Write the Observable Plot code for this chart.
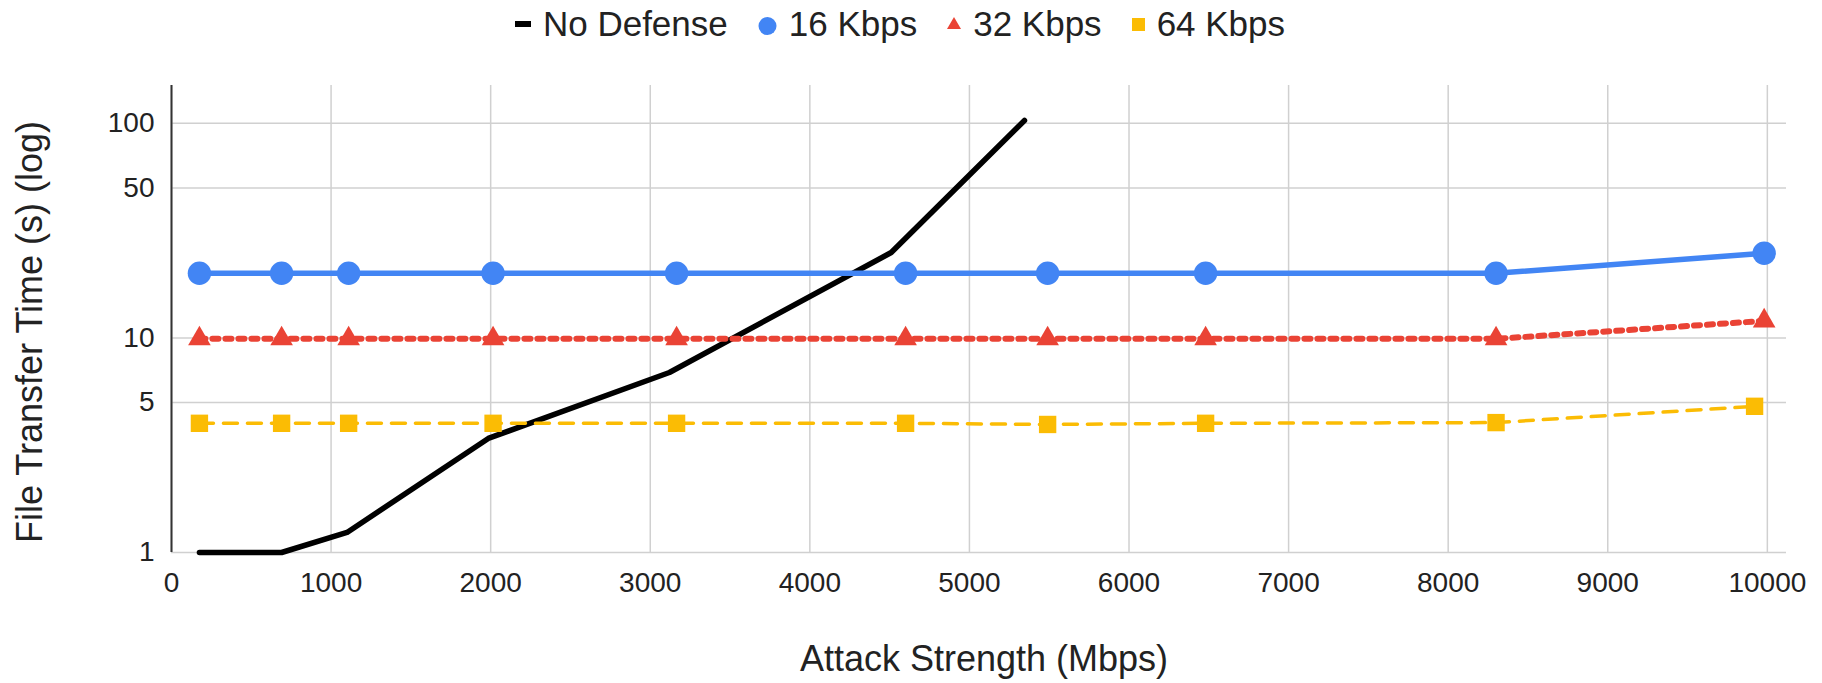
<!DOCTYPE html>
<html>
<head>
<meta charset="utf-8">
<script src="https://cdn.jsdelivr.net/npm/d3@7"></script>
<script src="https://cdn.jsdelivr.net/npm/@observablehq/plot@0.6"></script>
<style>
  html, body { margin: 0; padding: 0; background: #fff; }
  #legend {
    height: 48px; display: flex; justify-content: center; align-items: center;
    font-family: "Liberation Sans", Arial, sans-serif; font-size: 35px; color: #222;
    padding-right: 22px;
  }
  .item { display: flex; align-items: center; height: 48px; margin-left: 30px; }
  .item:first-child { margin-left: 0; }
  .item svg { margin-right: 12px; display: block; }
  .item span { line-height: 48px; }
  #chart svg { display: block; }
</style>
</head>
<body>
<div id="legend"></div>
<div id="chart"></div>
<script>
// ---- data ----
const seriesNames = ["No Defense", "16 Kbps", "32 Kbps", "64 Kbps"];
const seriesColors = ["#000000", "#4285F4", "#EA4335", "#FBBC04"];

const noDefenseX = [175, 690, 1100, 1985, 3120, 4510, 5345];
const noDefenseY = [1, 1, 1.24, 3.4, 6.9, 25, 103];

const attackX = [175, 690, 1110, 2015, 3165, 4600, 5490, 6480, 8300, 9980];
const attackX64 = [175, 690, 1110, 2015, 3165, 4600, 5490, 6480, 8300, 9920];
const kbps16 = [20, 20, 20, 20, 20, 20, 20, 20, 20, 24.8];
const kbps32 = [9.9, 9.9, 9.9, 9.9, 9.9, 9.9, 9.9, 9.9, 9.9, 12];
const kbps64 = [4.0, 4.0, 4.0, 4.0, 4.0, 4.0, 3.95, 4.0, 4.03, 4.8];

const xTicks = [0, 1000, 2000, 3000, 4000, 5000, 6000, 7000, 8000, 9000, 10000];
const yTicks = [1, 5, 10, 50, 100];
const xTitle = "Attack Strength (Mbps)";
const yTitle = "File Transfer Time (s) (log)";

// ---- legend (HTML, above the SVG) ----
const markerSvgs = [
  '<svg width="16" height="48"><rect x="0" y="21" width="16" height="6" fill="' + seriesColors[0] + '"/></svg>',
  '<svg width="19" height="48"><circle cx="9.5" cy="26" r="9" fill="' + seriesColors[1] + '"/></svg>',
  '<svg width="14" height="48"><polygon points="7,17 0,29 14,29" fill="' + seriesColors[2] + '"/></svg>',
  '<svg width="13" height="48"><rect x="0" y="18" width="13" height="13" fill="' + seriesColors[3] + '"/></svg>'
];
const legend = document.getElementById("legend");
seriesNames.forEach((name, i) => {
  const item = document.createElement("div");
  item.className = "item";
  item.innerHTML = markerSvgs[i] + "<span>" + name + "</span>";
  legend.appendChild(item);
});

// ---- chart ----
const font = '"Liberation Sans", Arial, sans-serif';
const chart = Plot.plot({
  width: 1822,
  height: 635,
  marginTop: 37,
  marginBottom: 131,
  marginLeft: 171,
  marginRight: 36,
  style: { fontFamily: font, background: "#fff", color: "#222" },
  x: { type: "linear", domain: [0, 10120] },
  y: { type: "log", domain: [1, 150] },
  marks: [
    Plot.gridX(xTicks, { stroke: "#d0d0d0", strokeOpacity: 1, strokeWidth: 1.5 }),
    Plot.gridY(yTicks, { stroke: "#d0d0d0", strokeOpacity: 1, strokeWidth: 1.5 }),
    Plot.ruleX([0], { stroke: "#333", strokeWidth: 2 }),
    Plot.axisX(xTicks, { tickSize: 0, tickPadding: 20, fontSize: 28, fill: "#222", tickFormat: d => String(d), label: null }),
    Plot.axisY(yTicks, { anchor: "left", tickSize: 0, tickPadding: 17, fontSize: 28, fill: "#222", tickFormat: d => String(d), label: null }),
    // No Defense
    Plot.line(noDefenseX, { x: noDefenseX, y: noDefenseY, stroke: seriesColors[0], strokeWidth: 5.5, strokeLinejoin: "round" }),
    // 16 Kbps
    Plot.line(attackX, { x: attackX, y: kbps16, stroke: seriesColors[1], strokeWidth: 5.5 }),
    Plot.dot(attackX, { x: attackX, y: kbps16, r: 11.7, fill: seriesColors[1], symbol: "circle" }),
    // 32 Kbps
    Plot.line(attackX, { x: attackX, y: kbps32, stroke: seriesColors[2], strokeWidth: 6, strokeDasharray: "6,7" }),
    Plot.dot(attackX, { x: attackX, y: kbps32, r: 8.4, fill: seriesColors[2], symbol: "triangle" }),
    // 64 Kbps
    Plot.line(attackX64, { x: attackX64, y: kbps64, stroke: seriesColors[3], strokeWidth: 3.5, strokeDasharray: "14,10" }),
    Plot.dot(attackX64, { x: attackX64, y: kbps64, r: 9.8, fill: seriesColors[3], symbol: "square" }),
    // axis titles
    Plot.text([xTitle], { frameAnchor: "bottom", text: d => d, textAnchor: "middle", lineAnchor: "middle", dx: 5, dy: 107, fontSize: 36, fill: "#222" }),
    Plot.text([yTitle], { frameAnchor: "left", text: d => d, textAnchor: "middle", lineAnchor: "middle", rotate: -90, dx: -141, dy: 13, fontSize: 36, fill: "#222" })
  ]
});
document.getElementById("chart").appendChild(chart);
</script>
</body>
</html>
